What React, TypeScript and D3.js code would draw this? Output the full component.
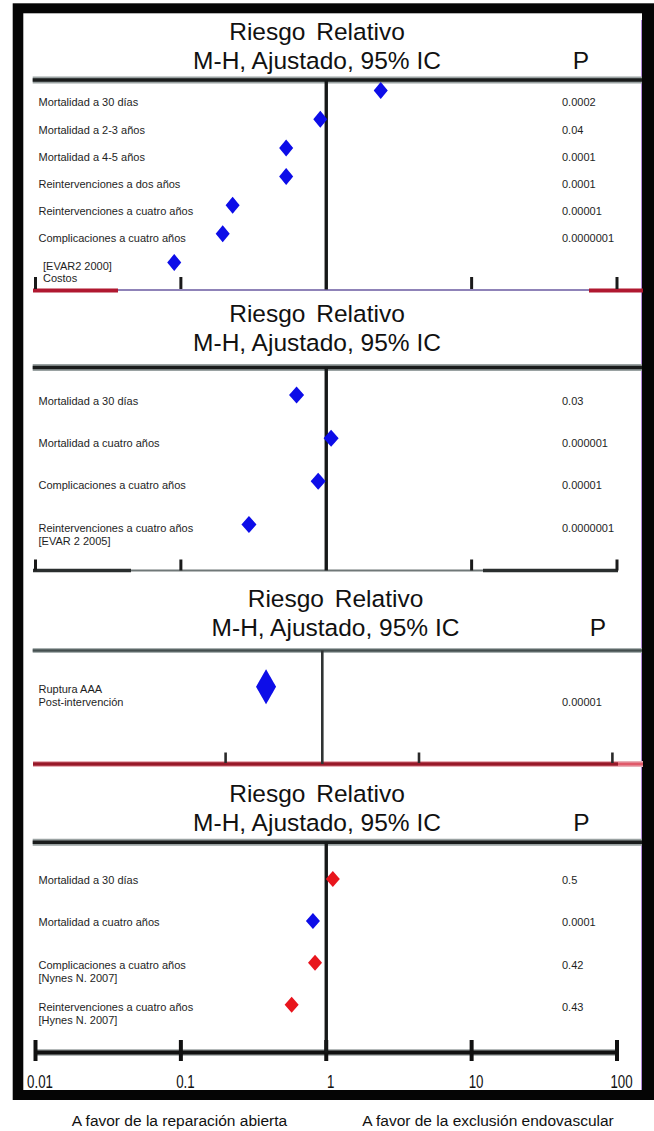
import React from "react";
import * as d3 from "d3";

const WIDTH = 654;
const HEIGHT = 1131;

// ---------------- data ----------------
const titleLine1 = "Riesgo Relativo";
const titleLine2 = "M-H, Ajustado, 95% IC";
const pHeader = "P";

const p1Labels = [
  ["Mortalidad a 30 días"],
  ["Mortalidad a 2-3 años"],
  ["Mortalidad a 4-5 años"],
  ["Reintervenciones a dos años"],
  ["Reintervenciones a cuatro años"],
  ["Complicaciones a cuatro años"],
  ["[EVAR2 2000]", "Costos"],
];
const p1RR = [2.37, 0.91, 0.53, 0.53, 0.227, 0.194, 0.09];
const p1P = ["0.0002", "0.04", "0.0001", "0.0001", "0.00001", "0.0000001", ""];

const p2Labels = [
  ["Mortalidad a 30 días"],
  ["Mortalidad a cuatro años"],
  ["Complicaciones a cuatro años"],
  ["Reintervenciones a cuatro años", "[EVAR 2 2005]"],
];
const p2RR = [0.625, 1.08, 0.88, 0.294];
const p2P = ["0.03", "0.000001", "0.00001", "0.0000001"];

const p3Labels = [["Ruptura AAA", "Post-intervención"]];
const p3RR = [0.262];
const p3P = ["0.00001"];

const p4Labels = [
  ["Mortalidad a 30 días"],
  ["Mortalidad a cuatro años"],
  ["Complicaciones a cuatro años", "[Nynes N. 2007]"],
  ["Reintervenciones a cuatro años", "[Hynes N. 2007]"],
];
const p4RR = [1.11, 0.81, 0.837, 0.578];
const p4P = ["0.5", "0.0001", "0.42", "0.43"];

const axisTicks = [0.01, 0.1, 1, 10, 100];
const axisTickLabels = ["0.01", "0.1", "1", "10", "100"];
const p3AxisTicks = [0.1, 1, 10, 1000];
const footerLabels = [
  "A favor de la reparación abierta",
  "A favor de la exclusión endovascular",
];

// ---------------- layout ----------------
const FONT = "'Liberation Sans', Arial, Helvetica, sans-serif";
const BLUE = "#0808e8";
const RED = "#e8121c";
const isSignificant = (p: string) => p === "" || +p < 0.05;

const xMain = d3.scaleLog().domain([0.01, 100]).range([35.5, 617]);
const x3 = d3.scaleLog().domain([0.1, 10]).range([225.6, 419]);

type Panel = {
  labels: string[][];
  rr: number[];
  p: string[];
  x: d3.ScaleLogarithmic<number, number>;
  t1: number;
  t2: number;
  tx: number;
  showP: boolean;
  px: number;
  header: number;
  axis: number;
  labelRange: [number, number];
  markRange: [number, number];
  pLine: number;
  dw: number;
  dh: number;
  thinHeader?: boolean;
};

const panels: Panel[] = [
  {
    labels: p1Labels, rr: p1RR, p: p1P, x: xMain,
    t1: 40, t2: 68.5, tx: 317, showP: true, px: 581,
    header: 80, axis: 290,
    labelRange: [102.6, 265.8], markRange: [90.6, 262.5], pLine: 0, dw: 14, dh: 17,
  },
  {
    labels: p2Labels, rr: p2RR, p: p2P, x: xMain,
    t1: 322.3, t2: 350.7, tx: 317, showP: false, px: 581,
    header: 367.5, axis: 570.5,
    labelRange: [400.7, 527.9], markRange: [395.1, 524.4], pLine: 0, dw: 15, dh: 17,
  },
  {
    labels: p3Labels, rr: p3RR, p: p3P, x: x3,
    t1: 607.3, t2: 635.7, tx: 335.5, showP: true, px: 598,
    header: 650.5, axis: 764,
    labelRange: [689.3, 689.3], markRange: [686.7, 686.7], pLine: 1, dw: 20, dh: 35,
    thinHeader: true,
  },
  {
    labels: p4Labels, rr: p4RR, p: p4P, x: xMain,
    t1: 802.3, t2: 830.7, tx: 317, showP: true, px: 581.5,
    header: 842.3, axis: 1052.5,
    labelRange: [879.7, 1007.5], markRange: [879.0, 1004.8], pLine: 0, dw: 14, dh: 16,
  },
];

const diamond = (w: number, h: number) =>
  `M0,${-h / 2}L${w / 2},0L0,${h / 2}L${-w / 2},0Z`;

function PanelView({ panel, idx }: { panel: Panel; idx: number }) {
  const n = panel.labels.length;
  const idxs = d3.range(n);
  const labelY = d3.scaleLinear().domain([0, Math.max(1, n - 1)]).range(panel.labelRange);
  const markY = d3.scaleLinear().domain([0, Math.max(1, n - 1)]).range(panel.markRange);
  const x = panel.x;
  const x1 = x(1);

  return (
    <g>
      {/* titles */}
      <text x={panel.tx} y={panel.t1} textAnchor="middle" fontSize={24.5} fontFamily={FONT} fill="#111" wordSpacing={4}>
        {titleLine1}
      </text>
      <text x={panel.tx} y={panel.t2} textAnchor="middle" fontSize={24.5} fontFamily={FONT} fill="#111">
        {titleLine2}
      </text>
      {panel.showP && (
        <text x={panel.px} y={panel.t2} textAnchor="middle" fontSize={24.5} fontFamily={FONT} fill="#111">
          {pHeader}
        </text>
      )}

      {/* header line */}
      {panel.thinHeader ? (
        <>
          <line x1={32.7} x2={642} y1={panel.header} y2={panel.header} stroke="#a8b0b0" strokeWidth={5} />
          <line x1={32.7} x2={642} y1={panel.header} y2={panel.header} stroke="#455050" strokeWidth={2.6} />
        </>
      ) : (
        <>
          <line x1={32.7} x2={642} y1={panel.header} y2={panel.header} stroke="#9aa2a2" strokeWidth={7} />
          <line x1={32.7} x2={642} y1={panel.header} y2={panel.header} stroke="#1a1c1c" strokeWidth={3.6} />
        </>
      )}

      {/* axis */}
      {idx === 0 && (
        <g>
          <line x1={33} x2={643} y1={panel.axis} y2={panel.axis} stroke="#6a5aa0" strokeWidth={1.4} />
          <line x1={33} x2={118} y1={panel.axis + 0.5} y2={panel.axis + 0.5} stroke="#b01830" strokeWidth={4} />
          <line x1={589} x2={643} y1={panel.axis + 0.5} y2={panel.axis + 0.5} stroke="#b01830" strokeWidth={4} />
          {[0.01, 0.1, 10, 100].map((t) => (
            <line key={t} x1={x(t)} x2={x(t)} y1={panel.axis - 13} y2={panel.axis - 1} stroke="#1a1a1a" strokeWidth={3} />
          ))}
        </g>
      )}
      {idx === 1 && (
        <g>
          <line x1={33} x2={617} y1={panel.axis} y2={panel.axis} stroke="#707878" strokeWidth={1.8} />
          <line x1={33} x2={131} y1={panel.axis} y2={panel.axis} stroke="#2a2e2e" strokeWidth={3.6} />
          <line x1={483} x2={618} y1={panel.axis} y2={panel.axis} stroke="#2a2e2e" strokeWidth={3.6} />
          {[0.01, 0.1, 10, 100].map((t) => (
            <line key={t} x1={x(t)} x2={x(t)} y1={panel.axis - 11} y2={panel.axis} stroke="#1a1a1a" strokeWidth={3} />
          ))}
        </g>
      )}
      {idx === 2 && (
        <g>
          <line x1={33} x2={643} y1={panel.axis} y2={panel.axis} stroke="#eab0b8" strokeWidth={6} />
          <line x1={33} x2={618} y1={panel.axis} y2={panel.axis} stroke="#981828" strokeWidth={3.4} />
          <line x1={618} x2={643} y1={panel.axis} y2={panel.axis} stroke="#e05a6a" strokeWidth={3} />
          {[0.1, 10, 1000].map((t) => (
            <line key={t} x1={x(t)} x2={x(t)} y1={panel.axis - 11.5} y2={panel.axis - 1} stroke="#2a2a2a" strokeWidth={2.6} />
          ))}
        </g>
      )}
      {idx === 3 && (
        <g>
          <line x1={xMain(0.01)} x2={xMain(100)} y1={panel.axis} y2={panel.axis} stroke="#9aa0a0" strokeWidth={6.5} />
          <line x1={xMain(0.01)} x2={xMain(100)} y1={panel.axis} y2={panel.axis} stroke="#111" strokeWidth={4} />
          {axisTicks.map((t) => (
            <line key={t} x1={x(t)} x2={x(t)} y1={panel.axis - 12.5} y2={panel.axis + 8.5} stroke="#111" strokeWidth={4} />
          ))}
          {axisTicks.map((t, i) => (
            <text
              key={"l" + t}
              transform={`translate(${x(t) + 4.5},1088) scale(0.76,1)`}
              textAnchor="middle"
              fontSize={17.5}
              fontFamily={FONT}
              fill="#111"
            >
              {axisTickLabels[i]}
            </text>
          ))}
        </g>
      )}

      {/* reference vertical line at RR = 1 */}
      <line
        x1={x1}
        x2={x1}
        y1={panel.header}
        y2={panel.axis + (idx === 0 ? -0.5 : 0)}
        stroke={idx === 2 ? "#303434" : "#161818"}
        strokeWidth={idx === 2 ? 2.6 : 3.4}
      />

      {/* labels */}
      {idxs.map((i) => (
        <text
          key={"lab" + i}
          x={panel.labels[i].length > 1 && panel.labels[i][0].startsWith("[EVAR2") ? 43 : 38.5}
          y={labelY(i)}
          dy="0.35em"
          fontSize={11}
          fontFamily={FONT}
          fill="#1e1e1e"
        >
          {panel.labels[i].map((ln, j) => (
            <tspan key={j} x={panel.labels[i][0].startsWith("[EVAR2") ? 43 : 38.5} dy={j === 0 ? "0.35em" : 12.8}>
              {ln}
            </tspan>
          ))}
        </text>
      ))}

      {/* p values */}
      {idxs.map((i) => (
        <text
          key={"p" + i}
          x={562}
          y={labelY(i) + panel.pLine * 12.8}
          dy="0.35em"
          fontSize={11}
          fontFamily={FONT}
          fill="#1e1e1e"
        >
          {panel.p[i]}
        </text>
      ))}

      {/* diamonds */}
      {idxs.map((i) => (
        <path
          key={"d" + i}
          d={diamond(panel.dw, panel.dh)}
          transform={`translate(${x(panel.rr[i])},${markY(i)})`}
          fill={isSignificant(panel.p[i]) ? BLUE : RED}
          filter="url(#soft)"
        />
      ))}
    </g>
  );
}

export default function App() {
  return (
    <svg
      width={WIDTH}
      height={HEIGHT}
      viewBox={`0 0 ${WIDTH} ${HEIGHT}`}
      style={{ position: "absolute", left: 0, top: 0, display: "block", background: "#fff" }}
    >
      <defs>
        <filter id="soft" x="-50%" y="-50%" width="200%" height="200%">
          <feGaussianBlur stdDeviation="0.6" />
        </filter>
      </defs>
      <rect x={0} y={0} width={WIDTH} height={HEIGHT} fill="#fff" />
      {/* outer frame */}
      <rect x={12.7} y={3.3} width={WIDTH - 12.7} height={1100 - 3.3} fill="#050505" />
      <rect x={23.3} y={13.3} width={642 - 23.3} height={1090 - 13.3} fill="#fff" />
      <line x1={641.5} x2={641.5} y1={20} y2={1090} stroke="#b488dc" strokeWidth={1} />

      {panels.map((p, i) => (
        <PanelView key={i} panel={p} idx={i} />
      ))}

      {/* footer */}
      <text x={179.5} y={1126} textAnchor="middle" fontSize={15.5} fontFamily={FONT} fill="#111">
        {footerLabels[0]}
      </text>
      <text x={488} y={1126} textAnchor="middle" fontSize={15.5} fontFamily={FONT} fill="#111">
        {footerLabels[1]}
      </text>
    </svg>
  );
}
